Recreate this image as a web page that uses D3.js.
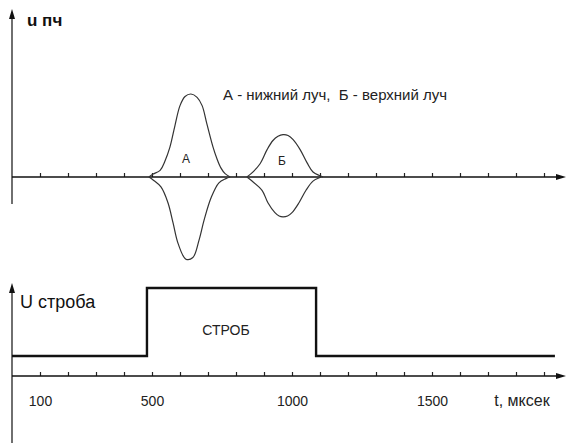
<!DOCTYPE html>
<html>
<head>
<meta charset="utf-8">
<script src="https://cdn.jsdelivr.net/npm/d3@7"></script>
<style>
  body { margin: 0; background: #fff; }
  svg { display: block; font-family: "Liberation Sans", Arial, sans-serif; }
</style>
</head>
<body>
<svg id="viz"></svg>
<script>
// time in microseconds, amplitudes in relative units (peak A = 1)
var tickTimes = [100, 200, 300, 400, 500, 600, 700, 800, 900, 1000, 1100, 1200, 1300, 1400, 1500, 1600, 1700, 1800, 1900];
var tickLabels = [100, 500, 1000, 1500];

var pulseAUpT = [489, 504, 529, 546, 564, 582, 600, 618, 639, 661, 679, 696, 718, 732, 746, 761, 779];
var pulseAUpU = [0, 0.035, 0.08, 0.19, 0.36, 0.62, 0.86, 0.97, 1.0, 0.96, 0.86, 0.64, 0.36, 0.22, 0.11, 0.04, 0];
var pulseALoT = [489, 504, 532, 557, 575, 593, 621, 646, 668, 686, 711, 739, 764, 779];
var pulseALoU = [0, -0.035, -0.12, -0.31, -0.55, -0.8, -0.99, -0.97, -0.76, -0.52, -0.25, -0.07, -0.02, 0];

var pulseBUpT = [839, 854, 886, 911, 932, 950, 968, 986, 1004, 1029, 1054, 1075, 1100, 1111];
var pulseBUpU = [0, 0.04, 0.16, 0.33, 0.44, 0.49, 0.51, 0.5, 0.45, 0.33, 0.17, 0.06, 0.015, 0];
var pulseBLoT = [839, 854, 893, 914, 939, 954, 968, 984, 1000, 1025, 1050, 1075, 1104];
var pulseBLoU = [0, -0.04, -0.16, -0.31, -0.43, -0.47, -0.48, -0.47, -0.43, -0.31, -0.16, -0.05, 0];

// strobe: level changes (step after)
var strobeT = [0, 482, 1086, 1939];
var strobeU = [0, 1, 0, 0];

var width = 566, height = 443;
var svg = d3.select('#viz').attr('width', width).attr('height', height);

var x = d3.scaleLinear().domain([0, 1975]).range([12, 565]);
var yTop = d3.scaleLinear().domain([-1, 1]).range([260, 94]);
var yBot = d3.scaleLinear().domain([0, 1]).range([356, 288]);
var topAxisY = yTop(0);
var botAxisY = yBot(-0.294);

function arrow(px, py, dir) {
  // dir: 'up' or 'right', tip at (px, py)
  var p;
  if (dir == 'up') {
    p = [[px, py], [px - 3, py + 10], [px + 3, py + 10]];
  } else {
    p = [[px, py], [px - 10, py - 3], [px - 10, py + 3]];
  }
  svg.append('path')
    .attr('d', 'M' + p.join('L') + 'Z')
    .attr('fill', '#111');
}

// ---- top chart: u пч ----
svg.append('line')
  .attr('x1', 12).attr('x2', 12)
  .attr('y1', 204).attr('y2', 12)
  .attr('stroke', '#222').attr('stroke-width', 1.3);
arrow(12, 9, 'up');

var topAxis = svg.append('g')
  .attr('transform', 'translate(0,' + topAxisY + ')')
  .call(d3.axisTop(x).tickValues(tickTimes).tickSize(4).tickFormat(''));
topAxis.select('.domain').remove();
topAxis.selectAll('line').attr('stroke', '#222').attr('stroke-width', 1.2);

svg.append('line')
  .attr('x1', 12).attr('x2', 558)
  .attr('y1', topAxisY).attr('y2', topAxisY)
  .attr('stroke', '#111').attr('stroke-width', 1.6);
arrow(566, topAxisY, 'right');

var pulseLine = d3.line()
  .x(function (d) { return x(d[0]); })
  .y(function (d) { return yTop(d[1]); })
  .curve(d3.curveCatmullRom);

[[pulseAUpT, pulseAUpU], [pulseALoT, pulseALoU], [pulseBUpT, pulseBUpU], [pulseBLoT, pulseBLoU]].forEach(function (s) {
  svg.append('path')
    .datum(d3.zip(s[0], s[1]))
    .attr('d', pulseLine)
    .attr('fill', 'none')
    .attr('stroke', '#333')
    .attr('stroke-width', 1.2);
});

svg.append('text')
  .attr('x', 27).attr('y', 26)
  .style('font-size', '17px').style('font-weight', 'bold')
  .attr('fill', '#111')
  .text('u пч');

svg.append('text')
  .attr('x', 223).attr('y', 100)
  .style('font-size', '15px')
  .attr('fill', '#222')
  .attr('xml:space', 'preserve')
  .text('А - нижний луч,  Б - верхний луч');

svg.append('text')
  .attr('x', 186).attr('y', 163)
  .attr('text-anchor', 'middle')
  .style('font-size', '12px')
  .attr('fill', '#222')
  .text('А');

svg.append('text')
  .attr('x', 282).attr('y', 165)
  .attr('text-anchor', 'middle')
  .style('font-size', '12px')
  .attr('fill', '#222')
  .text('Б');

// ---- bottom chart: U строба ----
svg.append('line')
  .attr('x1', 12).attr('x2', 12)
  .attr('y1', 443).attr('y2', 290)
  .attr('stroke', '#222').attr('stroke-width', 1.3);
arrow(12, 283, 'up');

var botAxis = svg.append('g')
  .attr('transform', 'translate(0,' + botAxisY + ')')
  .call(d3.axisTop(x).tickValues(tickTimes).tickSize(4).tickFormat(''));
botAxis.select('.domain').remove();
botAxis.selectAll('line').attr('stroke', '#222').attr('stroke-width', 1.2);

svg.append('line')
  .attr('x1', 12).attr('x2', 558)
  .attr('y1', botAxisY).attr('y2', botAxisY)
  .attr('stroke', '#111').attr('stroke-width', 1.6);
arrow(566, botAxisY, 'right');

var labelAxis = svg.append('g')
  .attr('transform', 'translate(0,' + botAxisY + ')')
  .call(d3.axisBottom(x).tickValues(tickLabels).tickSize(0).tickPadding(20).tickFormat(d3.format('d')));
labelAxis.select('.domain').remove();
labelAxis.selectAll('text')
  .style('font-size', '14px')
  .style('font-family', '"Liberation Sans", Arial, sans-serif')
  .attr('fill', '#222');

svg.append('text')
  .attr('x', 522).attr('y', 406)
  .attr('text-anchor', 'middle')
  .style('font-size', '16px')
  .attr('fill', '#222')
  .text('t, мксек');

svg.append('path')
  .datum(d3.zip(strobeT, strobeU))
  .attr('d', d3.line()
    .x(function (d) { return x(d[0]); })
    .y(function (d) { return yBot(d[1]); })
    .curve(d3.curveStepAfter))
  .attr('fill', 'none')
  .attr('stroke', '#111')
  .attr('stroke-width', 2.4);

svg.append('text')
  .attr('x', 20).attr('y', 308)
  .style('font-size', '18px')
  .attr('fill', '#111')
  .text('U строба');

svg.append('text')
  .attr('x', 226).attr('y', 335)
  .attr('text-anchor', 'middle')
  .style('font-size', '14px')
  .attr('fill', '#222')
  .text('СТРОБ');
</script>
</body>
</html>
